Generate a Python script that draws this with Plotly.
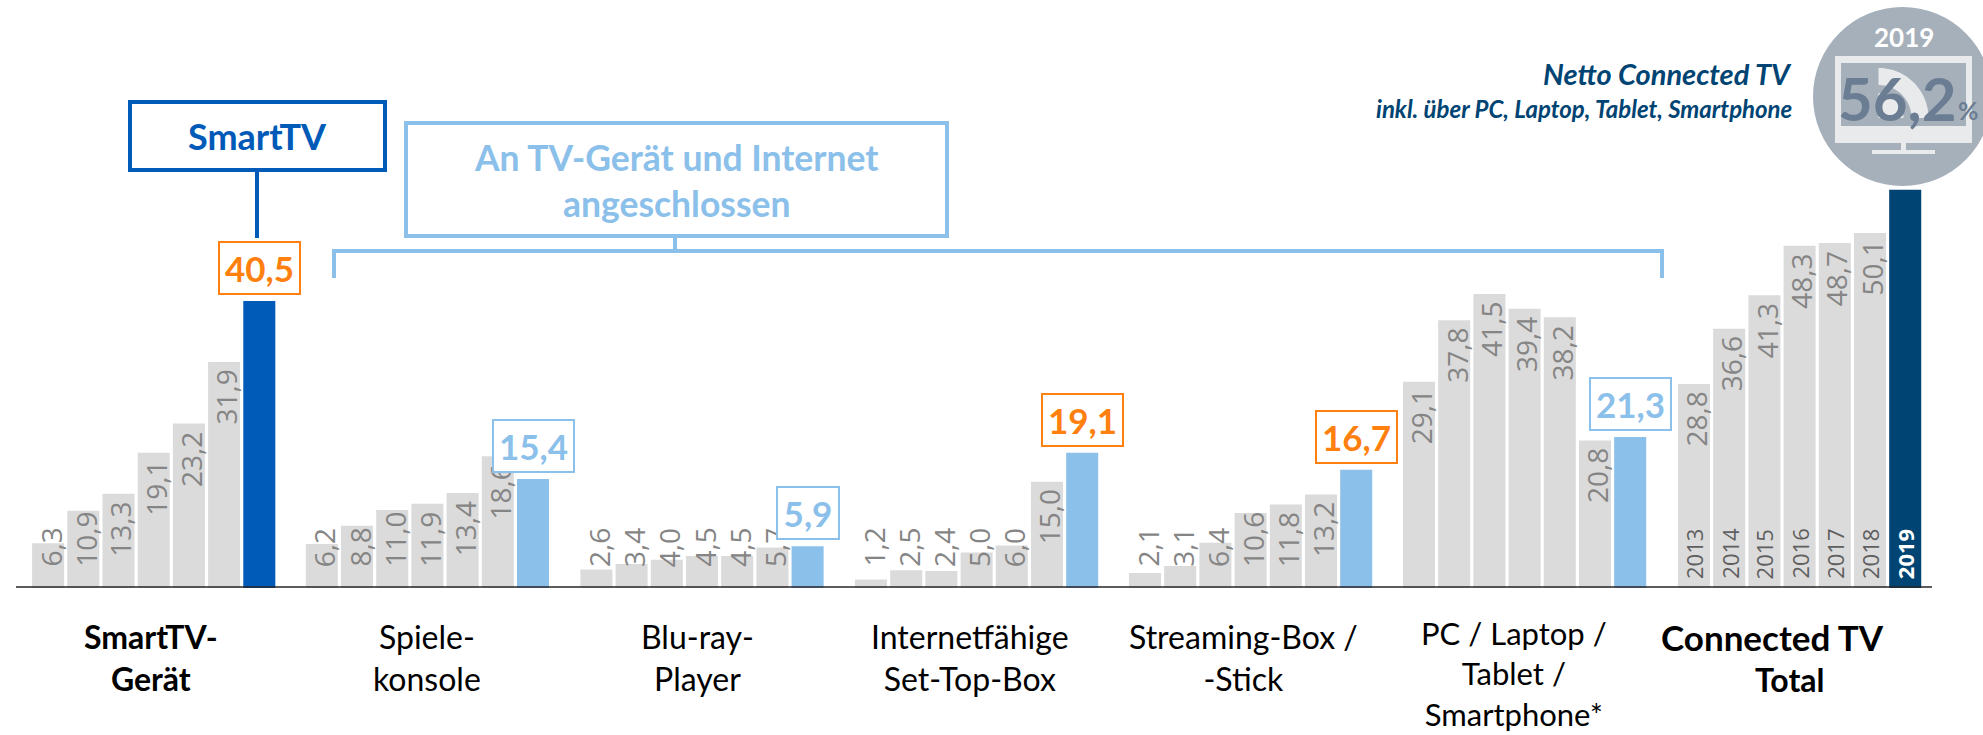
import numpy as np
import plotly.graph_objects as go

W, H = 1983, 735

years = [2013, 2014, 2015, 2016, 2017, 2018, 2019]
smart_tv = [6.3, 10.9, 13.3, 19.1, 23.2, 31.9, 40.5]
konsole = [6.2, 8.8, 11.0, 11.9, 13.4, 18.6, 15.4]
bluray = [2.6, 3.4, 4.0, 4.5, 4.5, 5.7, 5.9]
settop = [1.2, 2.5, 2.4, 5.0, 6.0, 15.0, 19.1]
streaming = [2.1, 3.1, 6.4, 10.6, 11.8, 13.2, 16.7]
pc = [29.1, 37.8, 41.5, 39.4, 38.2, 20.8, 21.3]
total = [28.8, 36.6, 41.3, 48.3, 48.7, 50.1, 56.2]
netto_label = "56,2"

series = [smart_tv, konsole, bluray, settop, streaming, pc, total]
group_labels = [
    "<b>SmartTV-<br>Gerät</b>", "Spiele-<br>konsole", "Blu-ray-<br>Player",
    "Internetfähige<br>Set-Top-Box", "Streaming-Box /<br>-Stick",
    "PC / Laptop /<br>Tablet /<br>Smartphone*", None,
]
label_cx = [151, 427, 697, 970, 1243, 1514, 1772]
label_top = [616, 616, 616, 616, 616, 613, 616]
label_size = [32, 32, 32, 32, 32, 31, 32]

SMART = "#005ab8"
LIGHT = "#8bc0ea"
NAVY = "#004473"
GREY = "#dbdbdb"
ORANGE = "#ff7f0f"
last_colors = [SMART, LIGHT, LIGHT, LIGHT, LIGHT, LIGHT, NAVY]
box_colors = [ORANGE, LIGHT, LIGHT, ORANGE, ORANGE, LIGHT, None]
box_widths = [83, 83, 64, 83, 83, 83, 0]

# pixel layout of the small multiples
group_left = [30.5, 304.2, 578.8, 853.4, 1127.4, 1401.4, 1676.4]
SLOT = 35.2
ZERO_PX = 588
PX_PER_UNIT = 7.086
SANS = "Lato"
LABEL = "Open Sans"


def px(x):
    return x / W


def py(y):
    return 1 - y / H


fig = go.Figure()
shapes, ann = [], []
layout_axes = {}

for g, vals in enumerate(series):
    name = "x" if g == 0 else f"x{g + 1}"
    key = "xaxis" if g == 0 else f"xaxis{g + 1}"
    layout_axes[key] = dict(
        domain=[px(group_left[g]), px(group_left[g] + 7 * SLOT)],
        type="linear", range=[years[0] - 0.5, years[-1] + 0.5], visible=False, anchor="y",
    )
    fig.add_trace(go.Bar(
        x=years, y=vals, xaxis=name, yaxis="y", showlegend=False,
        marker=dict(color=[GREY] * 6 + [last_colors[g]], line_width=0),
        hoverinfo="x+y",
    ))
    for i, (yr, v) in enumerate(zip(years, vals)):
        txt = f"{v:.1f}".replace(".", ",")
        if i < 6:
            length = 14 * len(txt) - 4
            room = v * PX_PER_UNIT - 17 - length
            if g == 6 or room >= 17:
                pos = dict(y=v, yanchor="top", yshift=-7)
            else:
                pos = dict(y=0, yanchor="bottom", yshift=20)
            ann.append(dict(
                text=txt, x=yr, xref=name, yref="y", textangle=-90, xanchor="center",
                showarrow=False, xshift=2, borderpad=0,
                font=dict(family=LABEL, size=28, color="#858585"), **pos,
            ))
        if g == 6:
            white = i == 6
            ann.append(dict(
                text=f"<b>{yr}</b>" if white else str(yr), x=yr, xref=name, y=0, yref="y",
                xanchor="center", yanchor="bottom", yshift=8, textangle=-90,
                showarrow=False, borderpad=0,
                font=dict(family=LABEL, size=22, color="white" if white else "#5f5f5f"),
            ))
    if box_colors[g]:
        ann.append(dict(
            text=f"<b>{vals[-1]:.1f}</b>".replace(".", ","), x=years[-1], xref=name,
            y=vals[-1], yref="y", xanchor="center", yanchor="bottom", yshift=6, showarrow=False,
            width=box_widths[g] - 4, height=50, borderwidth=2, borderpad=0,
            bordercolor=box_colors[g], bgcolor="white", align="center", valign="middle",
            font=dict(family=SANS, size=35, color=box_colors[g]),
        ))
    if group_labels[g]:
        ann.append(dict(
            text=group_labels[g], x=px(label_cx[g]), xref="paper", y=py(label_top[g]), yref="paper",
            xanchor="center", yanchor="top", showarrow=False, align="center", borderpad=0,
            font=dict(family=SANS, size=label_size[g], color="#000000"),
        ))


def line(x0, y0, x1, y1, color, width):
    shapes.append(dict(type="line", xref="paper", yref="paper", x0=px(x0), x1=px(x1),
                       y0=py(y0), y1=py(y1), line=dict(color=color, width=width)))


def rect(x0, y0, x1, y1, fill="rgba(0,0,0,0)", color=None, width=0):
    shapes.append(dict(type="rect", xref="paper", yref="paper", x0=px(x0), x1=px(x1),
                       y0=py(y0), y1=py(y1), fillcolor=fill,
                       line=dict(color=color or fill, width=width)))


def ring(cx, cy, r0, r1, fill):
    a = np.linspace(0, np.pi / 2, 30)
    pts = [(cx + r1 * np.cos(t), cy - r1 * np.sin(t)) for t in a]
    pts += [(cx + r0 * np.cos(t), cy - r0 * np.sin(t)) for t in a[::-1]]
    path = "M" + " L".join(f"{px(x):.5f},{py(y):.5f}" for x, y in pts) + " Z"
    shapes.append(dict(type="path", xref="paper", yref="paper", path=path,
                       fillcolor=fill, line_width=0))


def note(text, x, y, size, color, xanchor="center", align="center"):
    ann.append(dict(text=text, x=px(x), y=py(y), xref="paper", yref="paper", showarrow=False,
                    xanchor=xanchor, yanchor="middle", align=align, borderpad=0,
                    font=dict(family=SANS, size=size, color=color)))


# last group's label: its two lines are not centred on each other
note("<b>Connected TV</b>", 1772, 637, 35, "#000000")
note("<b>Total</b>", 1790, 679, 32, "#000000")

# baseline
line(16, 587, 1932, 587, "#262626", 1.5)

# SmartTV callout
rect(130, 102, 385, 170, color=SMART, width=4)
line(257, 170, 257, 238, SMART, 4)
note("<b>SmartTV</b>", 257, 136, 36, SMART)

# bracket callout
rect(406, 123, 947, 236, color=LIGHT, width=4)
line(675, 236, 675, 251, LIGHT, 4)
line(334, 251, 1662, 251, LIGHT, 4)
line(334, 249, 334, 278, LIGHT, 4)
line(1662, 249, 1662, 278, LIGHT, 4)
note("<b>An TV-Gerät und Internet<br>angeschlossen</b>", 676, 180, 35.5, LIGHT)

# netto badge
BADGE = "#a6b0bb"
MON = "#e8eaeb"
shapes.append(dict(type="circle", xref="paper", yref="paper", x0=px(1813), x1=px(1992),
                   y0=py(186), y1=py(7), fillcolor=BADGE, line_width=0))
rect(1835, 56, 1972, 143, fill=MON)
rect(1841, 63, 1966, 126, fill=BADGE)
rect(1901, 143, 1906, 150, fill=MON)
rect(1872, 150, 1935, 154, fill=MON)
ring(1878.5, 118, 33, 50, MON)
ring(1878.5, 118, 0, 25, MON)

note("<b><i>Netto Connected TV</i></b>", 1793, 73, 29, NAVY, xanchor="right")
note("<b><i>inkl. über PC, Laptop, Tablet, Smartphone</i></b>", 1793, 109, 24, NAVY, xanchor="right")
note("<b>2019</b>", 1904, 37, 26, "white")
note(f"<b>{netto_label}</b>", 1897, 98, 60, "#6b7d92")
note("<b>%</b>", 1968, 110, 25, "#6b7d92")

fig.update_layout(
    width=W, height=H, margin=dict(l=0, r=0, t=0, b=0, pad=0),
    paper_bgcolor="white", plot_bgcolor="white", bargap=0.09, showlegend=False,
    yaxis=dict(domain=[0, 1], range=[-(H - ZERO_PX) / PX_PER_UNIT, ZERO_PX / PX_PER_UNIT],
               visible=False, fixedrange=True),
    shapes=[dict(s, layer="above") for s in shapes], annotations=ann, **layout_axes,
)

fig.write_html("out.html", config=dict(displayModeBar=False),
               post_script="document.body.style.margin='0';")
